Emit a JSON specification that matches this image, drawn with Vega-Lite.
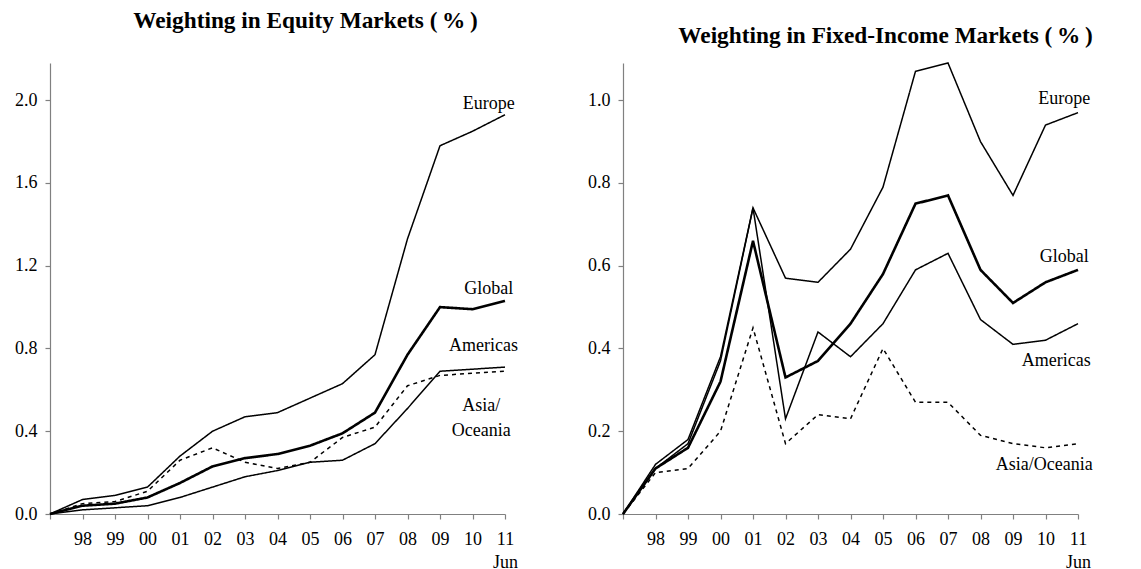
{
  "$schema": "https://vega.github.io/schema/vega-lite/v6.json",
  "padding": {"left": 14, "top": 8, "right": 5, "bottom": 0},
  "datasets": {
    "equity": [
      {"year": 1997, "Europe": 0, "Global": 0, "Americas": 0, "Asia/Oceania": 0},
      {"year": 1998, "Europe": 0.07, "Global": 0.04, "Americas": 0.02, "Asia/Oceania": 0.05},
      {"year": 1999, "Europe": 0.09, "Global": 0.05, "Americas": 0.03, "Asia/Oceania": 0.06},
      {"year": 2000, "Europe": 0.13, "Global": 0.08, "Americas": 0.04, "Asia/Oceania": 0.11},
      {"year": 2001, "Europe": 0.28, "Global": 0.15, "Americas": 0.08, "Asia/Oceania": 0.26},
      {"year": 2002, "Europe": 0.40, "Global": 0.23, "Americas": 0.13, "Asia/Oceania": 0.32},
      {"year": 2003, "Europe": 0.47, "Global": 0.27, "Americas": 0.18, "Asia/Oceania": 0.25},
      {"year": 2004, "Europe": 0.49, "Global": 0.29, "Americas": 0.21, "Asia/Oceania": 0.22},
      {"year": 2005, "Europe": 0.56, "Global": 0.33, "Americas": 0.25, "Asia/Oceania": 0.25},
      {"year": 2006, "Europe": 0.63, "Global": 0.39, "Americas": 0.26, "Asia/Oceania": 0.37},
      {"year": 2007, "Europe": 0.77, "Global": 0.49, "Americas": 0.34, "Asia/Oceania": 0.42},
      {"year": 2008, "Europe": 1.33, "Global": 0.77, "Americas": 0.51, "Asia/Oceania": 0.62},
      {"year": 2009, "Europe": 1.78, "Global": 1.00, "Americas": 0.69, "Asia/Oceania": 0.67},
      {"year": 2010, "Europe": 1.85, "Global": 0.99, "Americas": 0.70, "Asia/Oceania": 0.68},
      {"year": 2011, "Europe": 1.93, "Global": 1.03, "Americas": 0.71, "Asia/Oceania": 0.69}
    ],
    "fixed": [
      {"year": 1997, "Europe": 0, "Global": 0, "Americas": 0, "Asia/Oceania": 0},
      {"year": 1998, "Europe": 0.12, "Global": 0.11, "Americas": 0.11, "Asia/Oceania": 0.10},
      {"year": 1999, "Europe": 0.18, "Global": 0.16, "Americas": 0.17, "Asia/Oceania": 0.11},
      {"year": 2000, "Europe": 0.38, "Global": 0.32, "Americas": 0.37, "Asia/Oceania": 0.20},
      {"year": 2001, "Europe": 0.74, "Global": 0.66, "Americas": 0.74, "Asia/Oceania": 0.45},
      {"year": 2002, "Europe": 0.57, "Global": 0.33, "Americas": 0.23, "Asia/Oceania": 0.17},
      {"year": 2003, "Europe": 0.56, "Global": 0.37, "Americas": 0.44, "Asia/Oceania": 0.24},
      {"year": 2004, "Europe": 0.64, "Global": 0.46, "Americas": 0.38, "Asia/Oceania": 0.23},
      {"year": 2005, "Europe": 0.79, "Global": 0.58, "Americas": 0.46, "Asia/Oceania": 0.40},
      {"year": 2006, "Europe": 1.07, "Global": 0.75, "Americas": 0.59, "Asia/Oceania": 0.27},
      {"year": 2007, "Europe": 1.09, "Global": 0.77, "Americas": 0.63, "Asia/Oceania": 0.27},
      {"year": 2008, "Europe": 0.90, "Global": 0.59, "Americas": 0.47, "Asia/Oceania": 0.19},
      {"year": 2009, "Europe": 0.77, "Global": 0.51, "Americas": 0.41, "Asia/Oceania": 0.17},
      {"year": 2010, "Europe": 0.94, "Global": 0.56, "Americas": 0.42, "Asia/Oceania": 0.16},
      {"year": 2011, "Europe": 0.97, "Global": 0.59, "Americas": 0.46, "Asia/Oceania": 0.17}
    ],
    "eqlab": [
      {"year": 2010.5, "value": 1.98, "label": ["Europe"]},
      {"year": 2010.5, "value": 1.09, "label": ["Global"]},
      {"year": 2010.34, "value": 0.81, "label": ["Americas"]},
      {"year": 2010.27, "value": 0.52, "label": ["Asia/", "Oceania"]}
    ],
    "filab": [
      {"year": 2010.58, "value": 1.004, "label": ["Europe"]},
      {"year": 2010.58, "value": 0.62, "label": ["Global"]},
      {"year": 2010.33, "value": 0.369, "label": ["Americas"]},
      {"year": 2009.96, "value": 0.118, "label": ["Asia/Oceania"]}
    ]
  },
  "hconcat": [
    {
      "width": 455,
      "height": 451,
      "title": {"text": "Weighting in Equity Markets (\u2009%\u2009)", "dx": 28, "offset": 30},
      "encoding": {
        "x": {"field": "year", "type": "quantitative", "scale": {"domain": [1997, 2011], "nice": false, "zero": false},
              "axis": {"values": [1997, 1998, 1999, 2000, 2001, 2002, 2003, 2004, 2005, 2006, 2007, 2008, 2009, 2010, 2011],
                       "labelOverlap": false, "labelFlush": false,
                       "labelExpr": "datum.value == 1997 ? '' : datum.value == 2011 ? ['11', 'Jun'] : substring(toString(datum.value), 2)"}},
        "y": {"field": "value", "type": "quantitative", "scale": {"domain": [0, 2.18], "nice": false},
              "axis": {"values": [0, 0.4, 0.8, 1.2, 1.6, 2.0], "format": ".1f"}}
      },
      "layer": [
        {
          "data": {"name": "equity"},
          "transform": [{"fold": ["Europe", "Global", "Americas", "Asia/Oceania"], "as": ["series", "value"]}],
          "mark": {"type": "line", "color": "black"},
          "encoding": {
            "detail": {"field": "series"},
            "strokeWidth": {"condition": {"test": "datum.series == 'Global'", "value": 2.6}, "value": 1.5},
            "strokeDash": {"condition": {"test": "datum.series == 'Asia/Oceania'", "value": [4, 4]}, "value": [1, 0]}
          }
        },
        {
          "data": {"name": "eqlab"},
          "mark": {"type": "text", "font": "Liberation Serif", "fontSize": 18, "color": "black", "align": "center", "baseline": "middle", "lineHeight": 25},
          "encoding": {
            "text": {"field": "label"}
          }
        }
      ]
    },
    {
      "width": 455,
      "height": 451,
      "title": {"text": "Weighting in Fixed-Income Markets (\u2009%\u2009)", "dx": 35, "offset": 12},
      "encoding": {
        "x": {"field": "year", "type": "quantitative", "scale": {"domain": [1997, 2011], "nice": false, "zero": false},
              "axis": {"values": [1997, 1998, 1999, 2000, 2001, 2002, 2003, 2004, 2005, 2006, 2007, 2008, 2009, 2010, 2011],
                       "labelOverlap": false, "labelFlush": false,
                       "labelExpr": "datum.value == 1997 ? '' : datum.value == 2011 ? ['11', 'Jun'] : substring(toString(datum.value), 2)"}},
        "y": {"field": "value", "type": "quantitative", "scale": {"domain": [0, 1.09], "nice": false},
              "axis": {"values": [0, 0.2, 0.4, 0.6, 0.8, 1.0], "format": ".1f"}}
      },
      "layer": [
        {
          "data": {"name": "fixed"},
          "transform": [{"fold": ["Europe", "Global", "Americas", "Asia/Oceania"], "as": ["series", "value"]}],
          "mark": {"type": "line", "color": "black"},
          "encoding": {
            "detail": {"field": "series"},
            "strokeWidth": {"condition": {"test": "datum.series == 'Global'", "value": 2.6}, "value": 1.5},
            "strokeDash": {"condition": {"test": "datum.series == 'Asia/Oceania'", "value": [4, 4]}, "value": [1, 0]}
          }
        },
        {
          "data": {"name": "filab"},
          "mark": {"type": "text", "font": "Liberation Serif", "fontSize": 18, "color": "black", "align": "center", "baseline": "middle"},
          "encoding": {
            "text": {"field": "label"}
          }
        }
      ]
    }
  ],
  "spacing": 118,
  "bounds": "flush",
  "config": {
    "view": {"stroke": null},
    "background": "white",
    "title": {"font": "Liberation Serif", "fontSize": 23.3, "fontWeight": "bold", "color": "black", "anchor": "middle", "baseline": "alphabetic"},
    "axis": {
      "title": null,
      "grid": false,
      "domainColor": "#808080",
      "tickColor": "#808080",
      "domainWidth": 1.2,
      "tickWidth": 1.2,
      "tickSize": 5,
      "labelFont": "Liberation Serif",
      "labelFontSize": 18,
      "labelColor": "black",
      "labelPadding": 9,
      "labelLineHeight": 23
    },
    "axisX": {"labelPadding": 11},
    "axisY": {"labelPadding": 8}
  }
}
